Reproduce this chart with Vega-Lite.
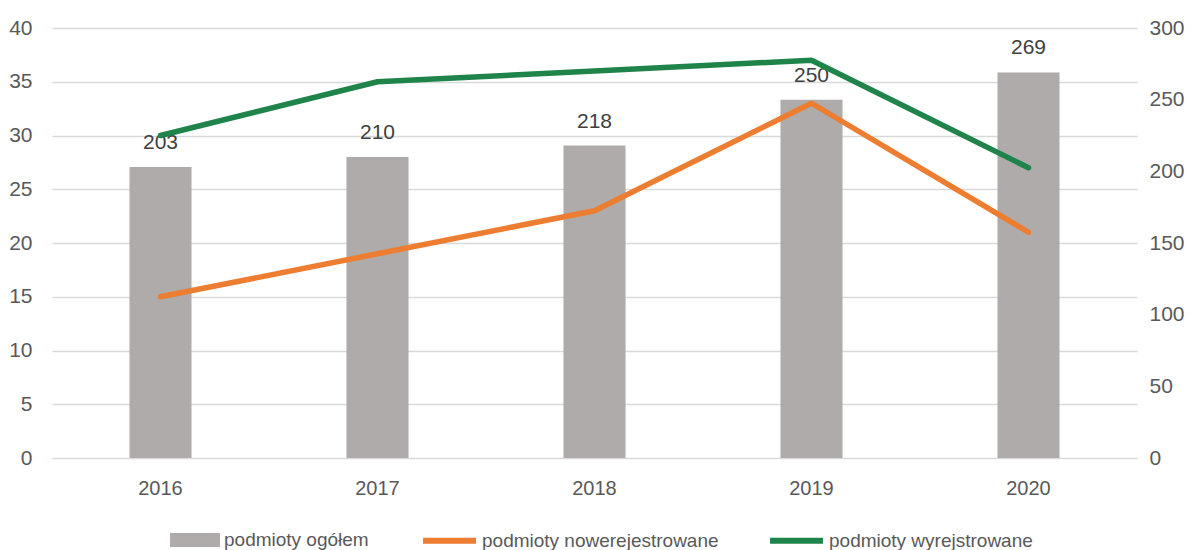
{
  "$schema": "https://vega.github.io/schema/vega-lite/v6.json",
  "width": 1085,
  "height": 430,
  "autosize": {"type": "none"},
  "padding": {"left": 52, "top": 28, "right": 55, "bottom": 92},
  "background": "#ffffff",
  "config": {
    "font": "Liberation Sans Narrow, Arial Narrow, Liberation Sans, sans-serif",
    "view": {"stroke": null},
    "axis": {
      "labelFont": "Liberation Sans Narrow, Arial Narrow, Liberation Sans, sans-serif",
      "labelColor": "#595959",
      "labelFontSize": 21,
      "domain": false,
      "ticks": false,
      "title": null
    },
    "legend": {
      "labelFont": "Liberation Sans Narrow, Arial Narrow, Liberation Sans, sans-serif",
      "labelColor": "#595959",
      "labelFontSize": 19,
      "labelLimit": 400,
      "title": null
    }
  },
  "datasets": {
    "ogolem": [
      {"rok": "2016", "seria": "podmioty ogółem", "wartosc": 203},
      {"rok": "2017", "seria": "podmioty ogółem", "wartosc": 210},
      {"rok": "2018", "seria": "podmioty ogółem", "wartosc": 218},
      {"rok": "2019", "seria": "podmioty ogółem", "wartosc": 250},
      {"rok": "2020", "seria": "podmioty ogółem", "wartosc": 269}
    ],
    "linie": [
      {"rok": "2016", "seria": "podmioty nowerejestrowane", "wartosc": 15},
      {"rok": "2017", "seria": "podmioty nowerejestrowane", "wartosc": 19},
      {"rok": "2018", "seria": "podmioty nowerejestrowane", "wartosc": 23},
      {"rok": "2019", "seria": "podmioty nowerejestrowane", "wartosc": 33},
      {"rok": "2020", "seria": "podmioty nowerejestrowane", "wartosc": 21},
      {"rok": "2016", "seria": "podmioty wyrejstrowane", "wartosc": 30},
      {"rok": "2017", "seria": "podmioty wyrejstrowane", "wartosc": 35},
      {"rok": "2018", "seria": "podmioty wyrejstrowane", "wartosc": 36},
      {"rok": "2019", "seria": "podmioty wyrejstrowane", "wartosc": 37},
      {"rok": "2020", "seria": "podmioty wyrejstrowane", "wartosc": 27}
    ]
  },
  "encoding": {
    "x": {
      "field": "rok",
      "type": "ordinal",
      "scale": {"paddingInner": 0.714, "paddingOuter": 0.357},
      "axis": {"labelAngle": 0, "labelFontSize": 20, "labelPadding": 20, "grid": false}
    }
  },
  "layer": [
    {
      "data": {"name": "ogolem"},
      "layer": [
        {
          "mark": {"type": "bar", "color": "#AEABAA"},
          "encoding": {
            "y": {
              "field": "wartosc",
              "type": "quantitative",
              "scale": {"domain": [0, 300]},
              "axis": {"orient": "right", "values": [0, 50, 100, 150, 200, 250, 300], "grid": false, "labelPadding": 12}
            },
            "fill": {
              "field": "seria",
              "type": "nominal",
              "scale": {"domain": ["podmioty ogółem"], "range": ["#AEABAA"]},
              "legend": {
                "orient": "none",
                "legendX": 118,
                "legendY": 487,
                "symbolType": "M-1,-0.28H1V0.28H-1Z",
                "symbolSize": 2500,
                "symbolStrokeWidth": 0,
                "labelOffset": 4
              }
            }
          }
        },
        {
          "mark": {"type": "text", "baseline": "bottom", "dy": -14, "fontSize": 21, "color": "#404040"},
          "encoding": {
            "y": {"field": "wartosc", "type": "quantitative"},
            "text": {"field": "wartosc", "type": "quantitative"}
          }
        }
      ]
    },
    {
      "data": {"name": "linie"},
      "mark": {"type": "line", "strokeWidth": 5.5, "strokeCap": "round", "strokeJoin": "round"},
      "encoding": {
        "y": {
          "field": "wartosc",
          "type": "quantitative",
          "scale": {"domain": [0, 40]},
          "axis": {"orient": "left", "values": [0, 5, 10, 15, 20, 25, 30, 35, 40], "grid": true, "gridColor": "#D9D9D9", "gridWidth": 1.5, "labelPadding": 20}
        },
        "stroke": {
          "field": "seria",
          "type": "nominal",
          "scale": {"domain": ["podmioty nowerejestrowane", "podmioty wyrejstrowane"], "range": ["#ED7D31", "#1E8449"]},
          "legend": {
            "orient": "none",
            "direction": "horizontal",
            "columns": 2,
            "legendX": 368,
            "legendY": 483,
            "symbolType": "stroke",
            "symbolSize": 2800,
            "symbolStrokeWidth": 6,
            "labelOffset": 3,
            "columnPadding": 39
          }
        }
      }
    }
  ],
  "resolve": {"scale": {"y": "independent"}, "legend": {"stroke": "independent", "fill": "independent"}}
}
